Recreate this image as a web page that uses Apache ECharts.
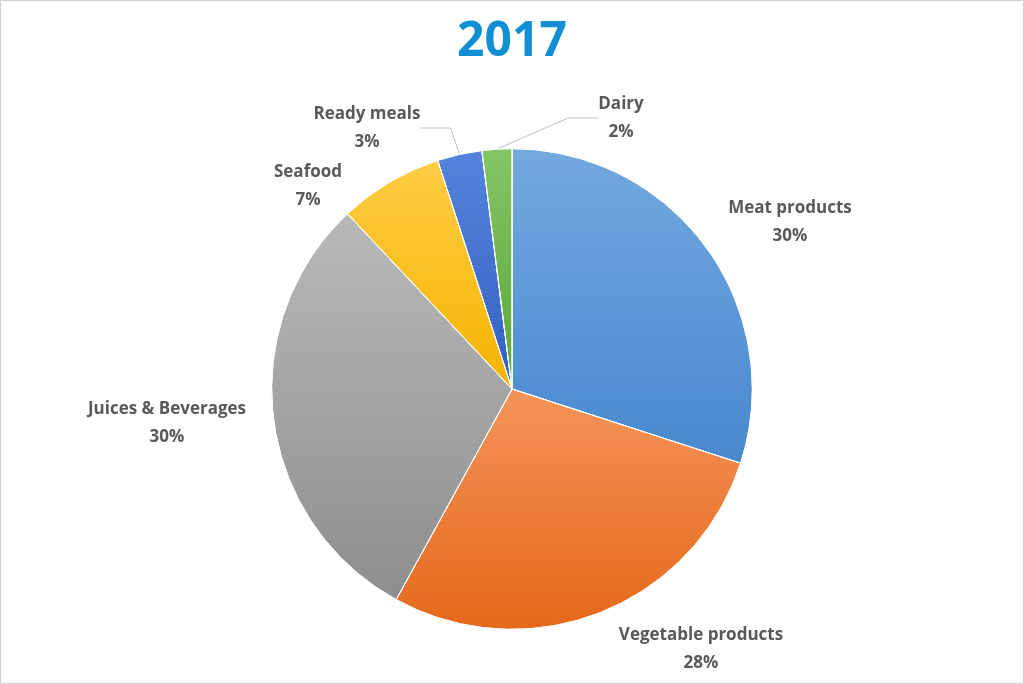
<!DOCTYPE html>
<html>
<head>
<meta charset="utf-8">
<script src="https://cdn.jsdelivr.net/npm/echarts@6/dist/echarts.min.js"></script>
<style>
html,body{margin:0;padding:0;background:#fff}
#chart{width:1022px;height:682px;border:1px solid #d0d0d0}
</style>
</head>
<body>
<div id="chart"></div>
<script>
const categories = ['Meat products', 'Vegetable products', 'Juices & Beverages', 'Seafood', 'Ready meals', 'Dairy'];
const shares = [30, 28, 30, 7, 3, 2];
const colorPairs = [
    ['#74a9df', '#4788cf'],  // blue
    ['#f4945a', '#e5681a'],  // orange
    ['#b9b9b9', '#8e8e8e'],  // gray
    ['#ffcd45', '#f4b400'],  // yellow
    ['#5584dc', '#3260c0'],  // dark blue
    ['#84c564', '#5ca63b']   // green
];
const showLine = [false, false, false, false, true, true];
// label anchor spots (text placement only)
const labelSpots = [[789, 221], [700, 648], [166, 422], [307, 185], [366, 127], [620, 117]];

const chart = echarts.init(document.getElementById('chart'));

chart.setOption({
    backgroundColor: '#FFFFFF',
    title: {
        text: '2017',
        left: 'center',
        top: 12,
        textStyle: {
            fontFamily: 'Open Sans, Liberation Sans',
            fontSize: 48,
            fontWeight: 'bold',
            color: '#108fd4'
        }
    },
    series: [{
        type: 'pie',
        radius: '70.5%',
        center: [511, 388],
        startAngle: 90,
        clockwise: true,
        avoidLabelOverlap: false,
        label: {
            show: true,
            formatter: '{b}\n{d}%',
            fontFamily: 'Open Sans, Liberation Sans',
            fontSize: 17,
            fontWeight: 'bold',
            color: '#595959',
            lineHeight: 28,
            align: 'center'
        },
        labelLayout: params => ({
            x: labelSpots[params.dataIndex][0],
            y: labelSpots[params.dataIndex][1],
            align: 'center',
            verticalAlign: 'middle',
            hideOverlap: false
        }),
        labelLine: {
            length: 14,
            length2: 30,
            lineStyle: { color: '#bfbfbf', width: 1 }
        },
        itemStyle: {
            borderColor: '#ffffff',
            borderWidth: 1
        },
        data: categories.map((name, i) => ({
            name: name,
            value: shares[i],
            itemStyle: {
                color: new echarts.graphic.LinearGradient(0, 0, 0, 1, [
                    { offset: 0, color: colorPairs[i][0] },
                    { offset: 1, color: colorPairs[i][1] }
                ])
            },
            labelLine: { show: showLine[i] }
        }))
    }]
});
</script>
</body>
</html>
